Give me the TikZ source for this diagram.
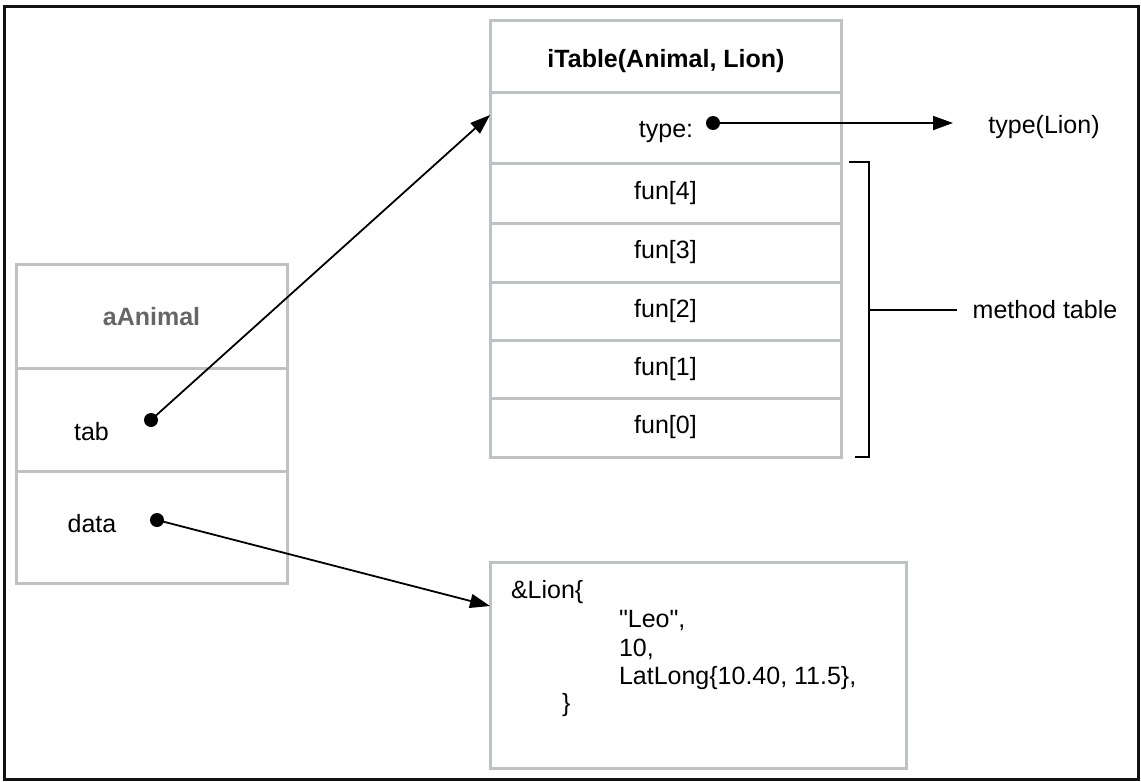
\documentclass[tikz,border=0pt]{standalone}
\usepackage{fontspec}
\setmainfont{Liberation Sans}
\newfontfamily\plainquote{Liberation Sans}[Ligatures=TeXOff]
\usetikzlibrary{arrows.meta,calc}
\definecolor{cellgrey}{HTML}{BEC2C4}
\definecolor{titlegrey}{HTML}{666666}
\tikzset{
  cell/.style={draw=cellgrey, line width=1.5pt, inner sep=0pt, outer sep=0pt,
    font=\fontsize{12.5}{15}\selectfont},
  lbl/.style={inner sep=0pt, outer sep=0pt, font=\fontsize{12.5}{15}\selectfont},
  ptr/.style={line width=0.9pt, -{Triangle[length=10pt,width=7pt]}},
  pdot/.style={circle, fill=black, inner sep=0pt, minimum size=7pt},
  brk/.style={line width=1pt},
}
\begin{document}
\begin{tikzpicture}[x=0.5pt,y=-0.5pt]
\useasboundingbox (0,0) rectangle (1141,782);
\draw[line width=1.5pt, black!93] (4.5,6) rectangle (1138.5,779.5);

% aAnimal box
\node[cell, minimum width=135.5pt, minimum height=52pt] (atitle) at (151.5,316) {};
\node[cell, minimum width=135.5pt, minimum height=51.5pt] (atab) at (151.5,419.5) {};
\node[cell, minimum width=135.5pt, minimum height=56pt] (adata) at (151.5,527) {};
\node[lbl, anchor=base, text=titlegrey, font=\fontsize{12.5}{15}\selectfont\bfseries] (aname) at (151.5,325) {aAnimal};
\node[lbl, anchor=base] (tablbl) at (91.5,440) {tab};
\node[lbl, anchor=base] (datalbl) at (92,532) {data};

% iTable box
\node[cell, minimum width=175.5pt, minimum height=36pt] (ititle) at (665.5,56) {};
\node[cell, minimum width=175.5pt, minimum height=35.5pt] (itype) at (665.5,127.5) {};
\node[cell, minimum width=175.5pt, minimum height=30pt] (f4) at (665.5,193) {fun[4]};
\node[cell, minimum width=175.5pt, minimum height=29.5pt] (f3) at (665.5,252.5) {fun[3]};
\node[cell, minimum width=175.5pt, minimum height=29pt] (f2) at (665.5,311) {fun[2]};
\node[cell, minimum width=175.5pt, minimum height=29pt] (f1) at (665.5,369) {fun[1]};
\node[cell, minimum width=175.5pt, minimum height=29.5pt] (f0) at (665.5,427.5) {fun[0]};
\node[lbl, anchor=base, font=\fontsize{12.5}{15}\selectfont\bfseries] (ilbl) at (666,67) {iTable(Animal, Lion)};
\node[lbl, anchor=base] (typelbl) at (666,137) {type:};

% Lion box
\node[cell, minimum width=208pt, minimum height=103pt] (lion) at (698.5,665) {};
\node[lbl, anchor=base west] (lionA) at (511,598) {\&Lion\{};
\node[lbl, anchor=base west] (lionB) at (619,627) {\plainquote "Leo",};
\node[lbl, anchor=base west] (lionC) at (619,656) {10,};
\node[lbl, anchor=base west] (lionD) at (619,684) {LatLong\{10.40, 11.5\},};
\node[lbl, anchor=base west] (lionE) at (562,711) {\}};

% right labels
\node[lbl, anchor=base] (typelion) at (1044,133) {type(Lion)};
\node[lbl, anchor=base] (mtable) at (1045,318) {method table};

% bracket
\draw[brk] (849,162) -- (869,162) -- (869,457) -- (855,457);
\coordinate (brkmid) at (869,310);
\coordinate (brkend) at (957,310);
\draw[brk] (brkmid) -- (brkend);

% dots and pointers
\node[pdot] (tabdot) at (151,420) {};
\node[pdot] (datadot) at (157,520) {};
\node[pdot] (typedot) at (713,123) {};
\coordinate (tabtip) at (490,115);
\coordinate (datatip) at (490,606);
\coordinate (typetip) at (953,123);
\draw[ptr] (tabdot.center) -- (tabtip);
\draw[ptr] (datadot.center) -- (datatip);
\draw[ptr] (typedot.center) -- (typetip);
\end{tikzpicture}
\end{document}
